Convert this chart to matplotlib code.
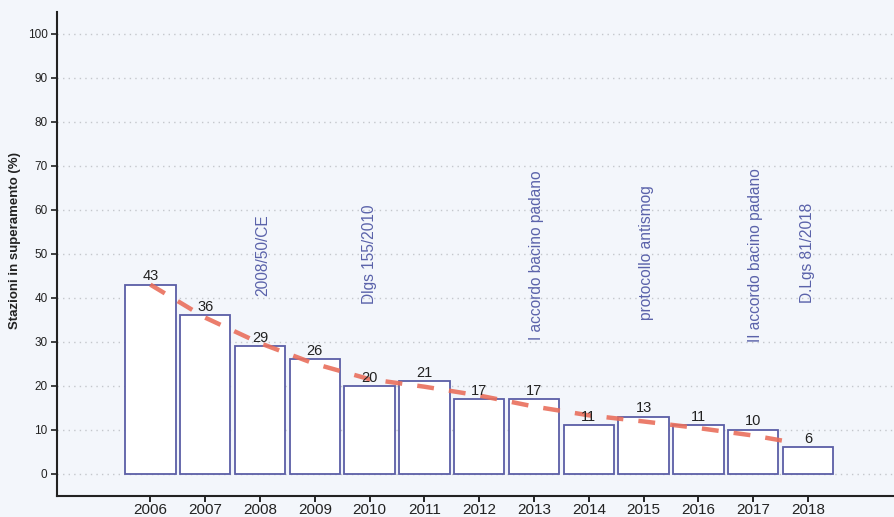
import matplotlib.pyplot as plt
import numpy as np

plt.rcParams['font.family'] = ['Liberation Sans', 'DejaVu Sans']

# data
years = [2006, 2007, 2008, 2009, 2010, 2011, 2012, 2013, 2014, 2015, 2016, 2017, 2018]
values = [43, 36, 29, 26, 20, 21, 17, 17, 11, 13, 11, 10, 6]

# trend line
trend_x = [2006, 2007, 2008, 2009, 2010, 2011, 2012, 2013, 2014, 2015, 2016, 2017, 2017.6]
trend_y = [43, 35.5, 29.7, 25, 21.5, 19.8, 17.8, 15.3, 13.3, 11.9, 10.4, 8.7, 7.4]

# events (label, year, bottom of text)
event_labels = ['2008/50/CE', 'Dlgs 155/2010', 'I accordo bacino padano',
                'protocollo antismog', 'II accordo bacino padano', 'D.Lgs 81/2018']
event_years = [2008.05, 2010.0, 2013.05, 2015.05, 2017.05, 2018.0]
event_base = [40.5, 38.5, 30.4, 34.9, 30.0, 38.8]

bg = '#f3f6fb'
bar_edge = '#5b5ea6'
text_blue = '#5a62aa'

fig = plt.figure(figsize=(8.94, 5.17), dpi=100, facecolor=bg)
ax = fig.add_axes([0.064, 0.041, 0.936, 0.936], facecolor=bg)

ax.set_yticks(np.arange(0, 101, 10))
ax.yaxis.grid(True, linestyle=(0, (1, 3)), color='#c4c7cc', linewidth=1)
ax.set_axisbelow(True)

ax.bar(years, values, width=0.92, color='white', edgecolor=bar_edge, linewidth=1.3, zorder=2)

for x, v in zip(years, values):
    ax.text(x, v + 0.3, str(v), ha='center', va='bottom', fontsize=10.5, color='#222222', zorder=4)

ax.plot(trend_x, trend_y, color='#e96f5c', linewidth=3.2, dashes=(3.8, 3.4), alpha=0.9, zorder=3)

for lab, x, b in zip(event_labels, event_years, event_base):
    ax.text(x, b, lab, rotation=90, ha='center', va='bottom', fontsize=11.2, color=text_blue, zorder=4)

ax.set_xlim(2004.3, 2019.57)
ax.set_ylim(-5, 105)
ax.set_xticks(years)
ax.set_xticklabels([str(y) for y in years], fontsize=11, color='#222222')
ax.tick_params(axis='y', labelsize=8.5, colors='#222222', length=4, width=1.2, pad=3)
ax.tick_params(axis='x', length=4, width=1.2, pad=1)

ax.set_ylabel('Stazioni in superamento (%)', fontsize=9.5, fontweight='bold', color='#222222')
ax.yaxis.set_label_coords(-0.043, 0.527)

for s in ['top', 'right']:
    ax.spines[s].set_visible(False)
for s in ['left', 'bottom']:
    ax.spines[s].set_color('#222222')
    ax.spines[s].set_linewidth(1.5)

fig.savefig('out.png', dpi=100, facecolor=bg)
